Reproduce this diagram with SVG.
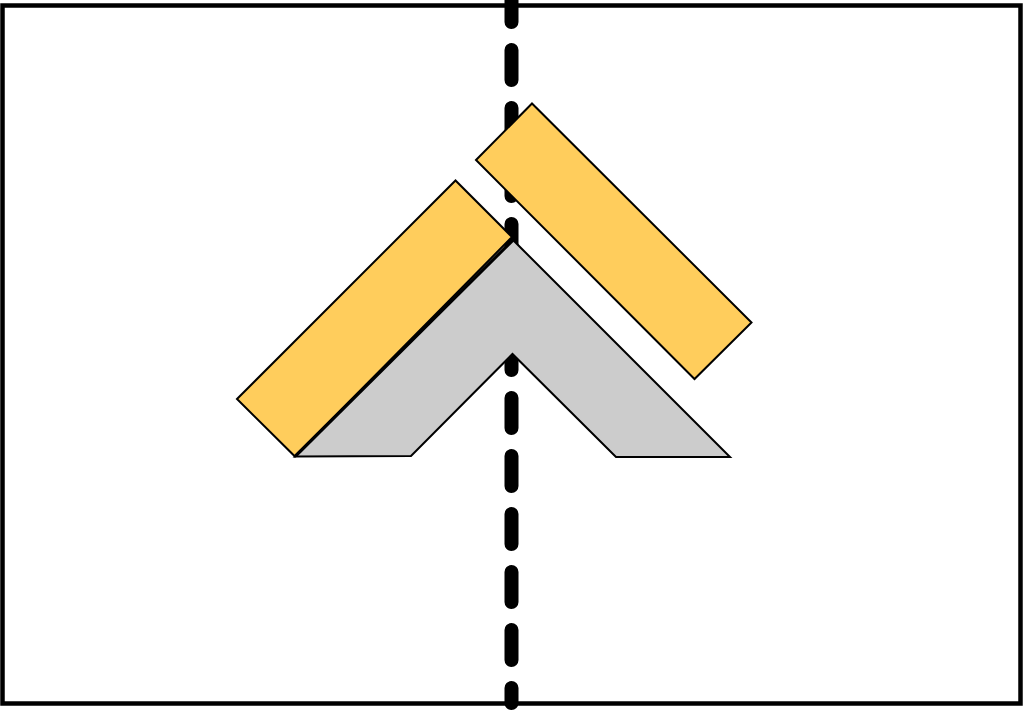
<svg xmlns="http://www.w3.org/2000/svg" width="1024" height="711" viewBox="0 0 1024 711">
<style>
.board{fill:#ffffff;stroke:#000000;stroke-width:4.5}
.beam{fill:#ffcd5c;stroke:#000000;stroke-width:2;stroke-linejoin:miter}
.roof{fill:#cccccc;stroke:#000000;stroke-width:2;stroke-linejoin:miter}
.seam{fill:none;stroke:#000000;stroke-width:3.2;stroke-linecap:butt}
.axis{fill:none;stroke:#000000;stroke-width:14;stroke-linecap:round;stroke-dasharray:30 28}
</style>
<rect id="frame" class="board" x="2.5" y="5.5" width="1018" height="698"/>
<line id="axis" class="axis" x1="511.5" y1="-8" x2="511.5" y2="703"/>
<g id="beam-left"><polygon class="beam" points="237,399 455.5,180.5 512,237 295,456.5"/></g>
<g id="beam-right"><polygon class="beam" points="476,160 532,103.5 751.5,322.5 694.5,379"/></g>
<g id="roof">
<polygon class="roof" points="295,456.5 513,240 730,457 616,457 512.5,354 411,456"/>
<line class="seam" x1="295.5" y1="456" x2="513" y2="240"/>
</g>
</svg>
